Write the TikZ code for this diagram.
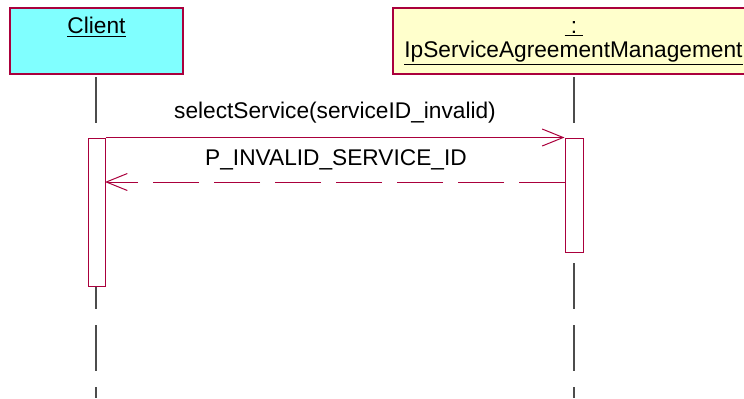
\documentclass[tikz,border=0pt]{standalone}
\usepackage{fontspec}
\setmainfont{Liberation Sans}
\usetikzlibrary{arrows.meta}
\definecolor{umlred}{RGB}{170,0,60}
\definecolor{clientcyan}{RGB}{128,255,255}
\definecolor{objyellow}{RGB}{255,255,204}
\tikzset{
    OB/.style ={rectangle, draw=umlred, line width=0.65pt, inner sep=0pt, minimum height=33pt},
    AC/.style ={rectangle, draw=umlred, fill=white, line width=0.5pt, inner sep=0pt},
    TX/.style ={anchor=base, inner sep=0pt, font=\fontsize{11.35}{13}\selectfont},
    LL/.style ={draw=black!70, line width=0.6pt, dash pattern=on 23pt off 8pt},
    MS/.style ={draw=umlred, line width=0.5pt, -{Straight Barb[length=10.5pt,width=8.5pt]}},
    RT/.style ={MS, dash pattern=on 23pt off 7.5pt}}

\begin{document}
\begin{tikzpicture}[x=0.5pt,y=-0.5pt]
        \useasboundingbox (0,0) rectangle (744,398);
        \node[OB, fill=clientcyan, minimum width=86.5pt] (client) at (96.5,41) {};
        \node[OB, fill=objyellow, minimum width=183.5pt] (server) at (576.5,41) {};
        \node[TX] (clientname) at (96.5,33) {\underline{Client}};
        \node[TX] (servercolon) at (574,33) {\underline{\ :\ }};
        \node[TX] (servername) at (573.5,57) {\underline{IpServiceAgreementManagement}};
        \coordinate (clienttop) at (96,77);
        \coordinate (clientend) at (96,398);
        \coordinate (servertop) at (574,77);
        \coordinate (serverend) at (574,398);
        \draw[LL] (clienttop) -- (clientend);
        \draw[LL] (servertop) -- (serverend);
        \node[AC, minimum width=8.5pt, minimum height=74pt] (clientact) at (96.5,212) {};
        \node[AC, minimum width=9pt, minimum height=57pt] (serveract) at (574,195) {};
        \coordinate (retS) at (565,182);
        \coordinate (retC) at (105,182);
        \draw[MS] (clientact.north east) -- (serveract.north west);
        \draw[RT] (retS) -- (retC);
        \node[TX] (call) at (335,118) {selectService(serviceID\_invalid)};
        \node[TX] (reply) at (336,165) {P\_INVALID\_SERVICE\_ID};
    \end{tikzpicture}
\end{document}
